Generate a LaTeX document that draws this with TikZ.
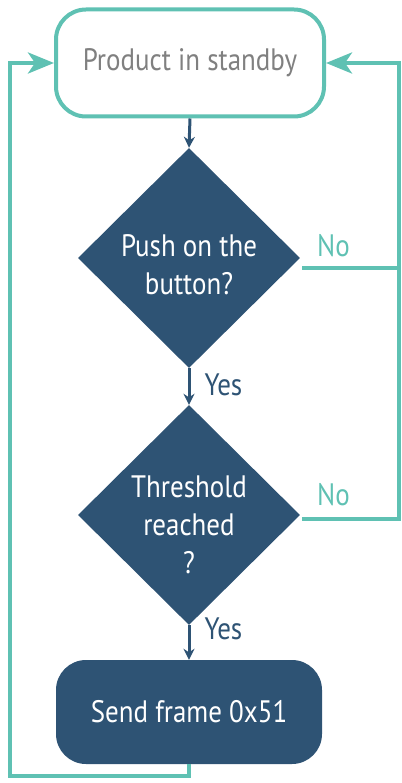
\documentclass[tikz,border=0pt]{standalone}
\usepackage{fontspec}
\setmainfont{PT Sans}[FakeStretch=0.87]
\usetikzlibrary{shapes.geometric,arrows.meta}
\definecolor{navy}{HTML}{2E5374}
\definecolor{teal}{HTML}{5FC1B3}
\definecolor{greytext}{HTML}{808080}
\tikzset{
  every node/.style={inner sep=0pt},
  txt/.style={font=\fontsize{31}{38}\selectfont},
  startbox/.style={draw=teal, line width=4pt, rounded corners=30pt, fill=white, minimum width=268pt, minimum height=107pt, txt},
  endbox/.style={fill=navy, rounded corners=30pt, minimum width=266pt, minimum height=104pt, text=white, txt},
  decision/.style={diamond, fill=navy, minimum width=222pt, minimum height=220pt, aspect=1, text=white, align=center, txt},
  flow/.style={draw=navy, line width=3pt, -{Stealth[length=11pt,width=11pt]}},
  loop/.style={draw=teal, line width=4pt, -{Stealth[length=26pt,width=21pt,inset=7pt]}},
  lbl/.style={txt, anchor=west},
}
\begin{document}
\begin{tikzpicture}[x=1pt,y=-1pt]
\useasboundingbox (0,0) rectangle (401,783);
\node[startbox, text=greytext] (start) at (190,63) {Product in standby};
\node[decision] (q1) at (189,258) {};
\node[decision] (q2) at (189,515) {};
\node[txt, text=white, align=center] (t1) at (189,265) {Push on the\\button?};
\node[txt, text=white, align=center] (t2) at (189,525) {Threshold\\reached\\?};
\node[endbox] (send) at (189,712) {Send frame 0x51};
\coordinate (n1) at (302,268);
\coordinate (n2) at (302,519);
\coordinate (r) at (399,63);
\coordinate (l) at (10,63);
\coordinate (b) at (10,776);
\draw[flow] (start.south) -- (q1.north);
\draw[flow] (q1.south) -- (q2.north) node[pos=0.45, lbl, text=navy, xshift=14pt] (y1) {Yes};
\draw[flow] (q2.south) -- (send.north) node[pos=0.1, lbl, text=navy, xshift=14pt] (y2) {Yes};
\draw[loop] (n1) -| (r) -- (start.east);
\draw[loop, -] (n2) -| (r);
\draw[loop] (send.south) |- (b) -- (l) -- (start.west);
\node[lbl, text=teal] (no1) at (317,246) {No};
\node[lbl, text=teal] (no2) at (317,495) {No};
\end{tikzpicture}
\end{document}
